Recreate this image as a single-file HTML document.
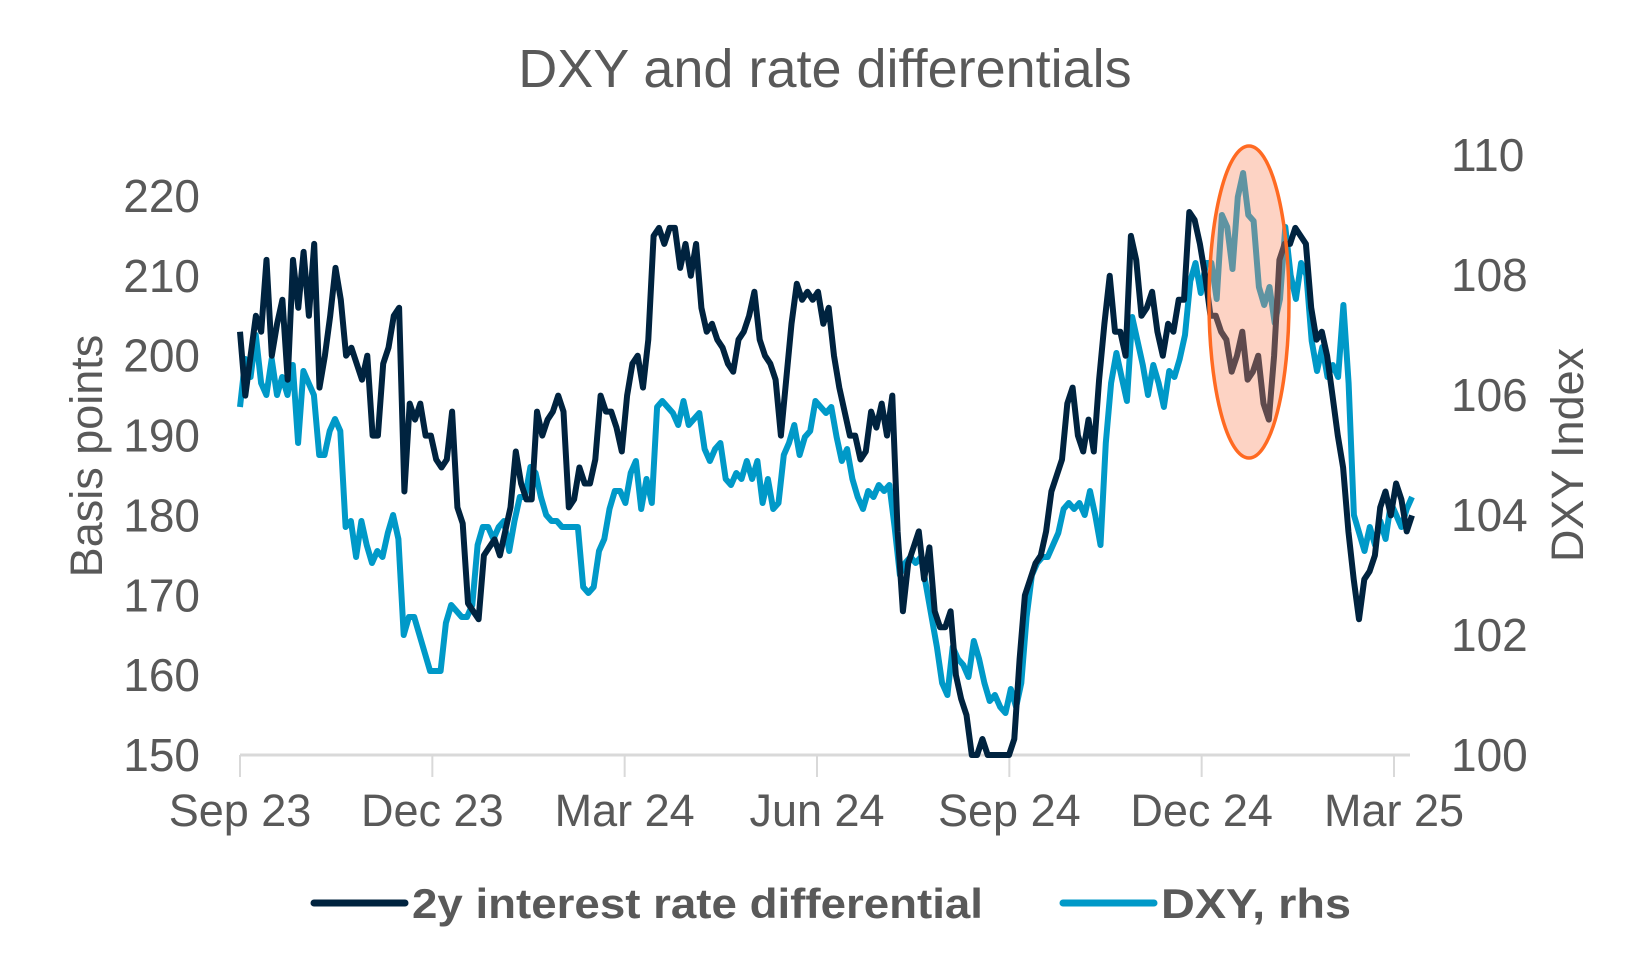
<!DOCTYPE html>
<html><head><meta charset="utf-8"><style>
html,body{margin:0;padding:0;background:#fff;}
svg{display:block;font-family:"Liberation Sans",Arial,sans-serif;}
</style></head><body>
<svg id="chart" width="1650" height="969" viewBox="0 0 1650 969" xmlns="http://www.w3.org/2000/svg">
<text x="825" y="87" text-anchor="middle" font-size="54" fill="#595959">DXY and rate differentials</text>
<g id="axes"></g>
<g id="series"></g>
<ellipse cx="1249" cy="302" rx="40" ry="156" fill="rgba(250,140,100,0.38)" stroke="#ff6a22" stroke-width="3.5"/>
<text transform="translate(102,456) rotate(-90)" text-anchor="middle" font-size="45" fill="#595959">Basis points</text>
<text transform="translate(1583,455) rotate(-90)" text-anchor="middle" font-size="45" fill="#595959">DXY Index</text>
<g>
<line x1="314" y1="903" x2="405" y2="903" stroke="#00233f" stroke-width="7" stroke-linecap="round"/>
<text x="412" y="918" font-size="42" font-weight="bold" fill="#595959" textLength="571" lengthAdjust="spacingAndGlyphs">2y interest rate differential</text>
<line x1="1063" y1="903" x2="1154" y2="903" stroke="#0099c8" stroke-width="7" stroke-linecap="round"/>
<text x="1161" y="918" font-size="42" font-weight="bold" fill="#595959" textLength="190" lengthAdjust="spacingAndGlyphs">DXY, rhs</text>
</g>
</svg>
<script>
const xLabels = ["Sep 23","Dec 23","Mar 24","Jun 24","Sep 24","Dec 24","Mar 25"];
const leftTicks = [150,160,170,180,190,200,210,220];
const rightTicks = [100,102,104,106,108,110];
const diffValues = [203,195,200,205,203,212,200,204,207,197,212,206,213,205,214,196,200,205,211,207,200,201,199,197,200,190,190,199,201,205,206,183,194,192,194,190,190,187,186,187,193,181,179,169,168,167,175,176,177,175,178,181,188,184,182,182,193,190,192,193,195,193,181,182,186,184,184,187,195,193,193,191,188,195,199,200,196,202,215,216,214,216,216,211,214,210,214,206,203,204,202,201,199,198,202,203,205,208,202,200,199,197,190,197,204,209,207,208,207,208,204,206,200,196,193,190,190,187,188,193,191,194,190,195,178,168,174,176,178,172,176,168,166,166,168,160,157,155,150,150,152,150,150,150,150,150,152,162,170,172,174,175,178,183,185,187,194,196,190,188,192,188,197,204,210,203,203,200,215,212,205,206,208,203,200,204,203,207,207,218,217,214,210,205,205,203,202,198,200,203,197,198,200,194,192,200,212,214,214,216,215,214,206,202,203,200,195,190,186,178,172,167,172,173,175,181,183,180,184,182,178,180];
const dxyValues = [105.8,106.6,106.3,107.0,106.2,106.0,106.6,106.0,106.3,106.0,106.5,105.2,106.4,106.2,106.0,105.0,105.0,105.4,105.6,105.4,103.8,103.9,103.3,103.9,103.5,103.2,103.4,103.3,103.7,104.0,103.6,102.0,102.3,102.3,102.0,101.7,101.4,101.4,101.4,102.2,102.5,102.4,102.3,102.3,102.5,103.5,103.8,103.8,103.6,103.8,103.9,103.4,103.9,104.3,104.3,104.8,104.7,104.3,104.0,103.9,103.9,103.8,103.8,103.8,103.8,102.8,102.7,102.8,103.4,103.6,104.1,104.4,104.4,104.2,104.7,104.9,104.1,104.6,104.2,105.8,105.9,105.8,105.7,105.5,105.9,105.5,105.6,105.7,105.1,104.9,105.1,105.2,104.6,104.5,104.7,104.6,104.9,104.6,104.9,104.2,104.6,104.1,104.2,105.0,105.2,105.5,105.0,105.3,105.4,105.9,105.8,105.7,105.8,105.3,104.9,105.1,104.6,104.3,104.1,104.4,104.3,104.5,104.4,104.5,103.8,103.0,103.2,103.3,103.2,103.3,102.8,102.3,101.8,101.2,101.0,101.8,101.6,101.5,101.3,101.9,101.6,101.2,100.9,101.0,100.8,100.7,101.1,100.8,101.2,102.3,103.0,103.2,103.3,103.3,103.5,103.7,104.1,104.2,104.1,104.2,104.0,104.4,104.0,103.5,105.2,106.2,106.7,106.3,105.9,107.3,106.9,106.5,106.0,106.5,106.2,105.8,106.4,106.3,106.6,107.0,107.9,108.2,107.7,108.2,108.2,107.6,109.0,108.8,108.1,109.3,109.7,109.0,108.9,107.8,107.5,107.8,107.2,107.6,108.8,108.0,107.6,108.2,108.0,106.9,106.4,106.8,106.3,106.5,106.3,107.5,106.2,104.0,103.7,103.4,103.8,103.5,103.9,103.6,104.2,104.0,103.8,104.1,104.3];

const NS = "http://www.w3.org/2000/svg";
const X0 = 240, X1 = 1412, AXIS_Y = 755;
const tickX0 = 240, tickStep = (1394 - 240) / 6;
function yLeft(v){ return AXIS_Y - (v - 150) * 7.986; }
function yRight(v){ return AXIS_Y - (v - 100) * 60; }
function xIdx(i, n){ return X0 + (X1 - X0) * i / (n - 1); }
const axes = document.getElementById('axes');
function mk(tag, attrs, parent){ const e = document.createElementNS(NS, tag); for (const k in attrs) e.setAttribute(k, attrs[k]); parent.appendChild(e); return e; }

const axisLine = mk('line', {x1:X0, y1:AXIS_Y, x2:1410, y2:AXIS_Y, stroke:'#d9d9d9', 'stroke-width':3}, axes);


xLabels.forEach((lab, i) => {
  const x = tickX0 + tickStep * i;
  const t = mk('line', {x1:x, y1:AXIS_Y, x2:x, y2:AXIS_Y+22, stroke:'#d9d9d9', 'stroke-width':2}, axes);
  
  
  const tx = mk('text', {x:x, y:826, 'text-anchor':'middle', 'font-size':45, fill:'#595959'}, axes);
  tx.textContent = lab;
  
  
});
leftTicks.forEach(v => {
  const tx = mk('text', {x:200, y:yLeft(v)+16, 'text-anchor':'end', 'font-size':46, fill:'#595959'}, axes);
  tx.textContent = v;
  
  
});
rightTicks.forEach(v => {
  const tx = mk('text', {x:1451, y:yRight(v)+16, 'text-anchor':'start', 'font-size':46, fill:'#595959'}, axes);
  tx.textContent = v;
  
  
});

const series = document.getElementById('series');
function path(vals, yf){
  return vals.map((v, i) => (i ? 'L' : 'M') + xIdx(i, vals.length).toFixed(1) + ',' + Math.min(yf(v), AXIS_Y).toFixed(1)).join('');
}
const dxyLine = mk('path', {d:path(dxyValues, yRight), fill:'none', stroke:'#0099c8', 'stroke-width':6, 'stroke-linejoin':'round'}, series);


const diffLine = mk('path', {d:path(diffValues, yLeft), fill:'none', stroke:'#00233f', 'stroke-width':6, 'stroke-linejoin':'round'}, series);


</script>
</body></html>
